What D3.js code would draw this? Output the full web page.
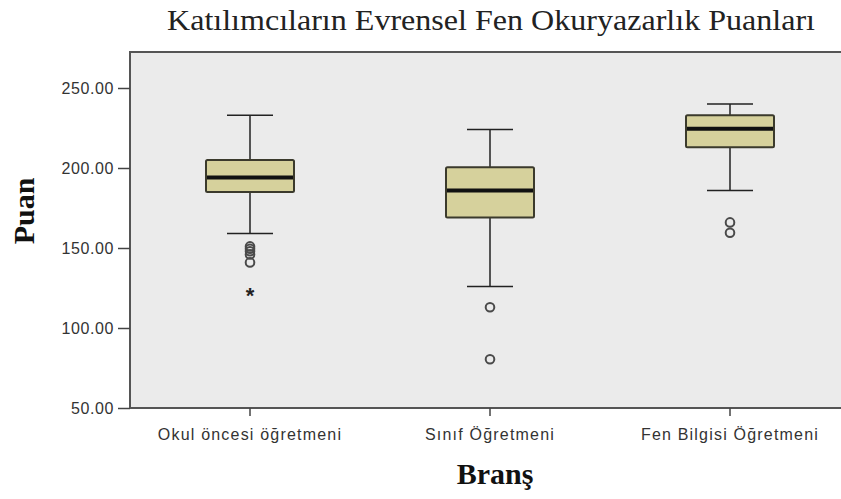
<!DOCTYPE html>
<html>
<head>
<meta charset="utf-8">
<script src="https://cdn.jsdelivr.net/npm/d3@7"></script>
<style>
  body { margin: 0; background: #fff; }
  svg { display: block; }
</style>
</head>
<body>
<div id="chart"></div>
<script>
// Data
const categories = ['Okul öncesi öğretmeni', 'Sınıf Öğretmeni', 'Fen Bilgisi Öğretmeni'];
const whiskerLow = [159, 126, 186];
const q1 = [185, 169, 213];
const median = [194, 186, 224.5];
const q3 = [205, 200.5, 233];
const whiskerHigh = [233, 224, 240];
const outliers = [[151, 149.5, 148, 146, 141], [113, 80.5], [166, 159.5]];
const extremes = [[121.5], [], []];
const yTicks = [50, 100, 150, 200, 250];

const W = 841, H = 499;
const margin = {top: 52, right: -9, bottom: 91, left: 130};
const innerW = W - margin.left - margin.right;
const innerH = H - margin.top - margin.bottom;

const colors = {
    plotBg: '#ebebeb',
    boxFill: '#d6d19c',
    boxStroke: '#3b3a2c',
    frame: '#555555',
    text: '#333333'
};

const svg = d3.select('#chart')
    .append('svg')
    .attr('width', W)
    .attr('height', H);

const g = svg.append('g')
    .attr('transform', `translate(${margin.left},${margin.top})`);

const x = d3.scaleBand()
    .domain(categories)
    .range([0, innerW]);

const y = d3.scaleLinear()
    .domain([50, 272.5])
    .range([innerH, 0]);

// Plot background
g.append('rect')
    .attr('width', innerW)
    .attr('height', innerH)
    .attr('fill', colors.plotBg)
    .attr('stroke', colors.frame)
    .attr('stroke-width', 2);

const boxW = 88, capW = 46;

const rows = categories.map((c, i) => ({
    cat: c,
    lo: whiskerLow[i], q1: q1[i], med: median[i], q3: q3[i], hi: whiskerHigh[i],
    out: outliers[i], ext: extremes[i]
}));

const groups = g.selectAll('g.box')
    .data(rows)
    .enter()
    .append('g')
    .attr('class', 'box')
    .attr('transform', d => `translate(${x(d.cat) + x.bandwidth() / 2},0)`);

// Whiskers
groups.append('line')
    .attr('x1', 0).attr('x2', 0)
    .attr('y1', d => y(d.hi)).attr('y2', d => y(d.q3))
    .attr('stroke', '#222').attr('stroke-width', 1.5);
groups.append('line')
    .attr('x1', 0).attr('x2', 0)
    .attr('y1', d => y(d.q1)).attr('y2', d => y(d.lo))
    .attr('stroke', '#222').attr('stroke-width', 1.5);
groups.append('line')
    .attr('x1', -capW / 2).attr('x2', capW / 2)
    .attr('y1', d => y(d.hi)).attr('y2', d => y(d.hi))
    .attr('stroke', '#222').attr('stroke-width', 1.5);
groups.append('line')
    .attr('x1', -capW / 2).attr('x2', capW / 2)
    .attr('y1', d => y(d.lo)).attr('y2', d => y(d.lo))
    .attr('stroke', '#222').attr('stroke-width', 1.5);

// Box
groups.append('rect')
    .attr('x', -boxW / 2)
    .attr('width', boxW)
    .attr('y', d => y(d.q3))
    .attr('height', d => y(d.q1) - y(d.q3))
    .attr('rx', 1.5)
    .attr('fill', colors.boxFill)
    .attr('stroke', colors.boxStroke)
    .attr('stroke-width', 2);

// Median
groups.append('line')
    .attr('x1', -boxW / 2 + 1).attr('x2', boxW / 2 - 1)
    .attr('y1', d => y(d.med)).attr('y2', d => y(d.med))
    .attr('stroke', '#111').attr('stroke-width', 4);

// Outliers
groups.selectAll('circle')
    .data(d => d.out)
    .enter()
    .append('circle')
    .attr('cx', 0)
    .attr('cy', v => y(v))
    .attr('r', 4.3)
    .attr('fill', 'none')
    .attr('stroke', '#4a4a4a')
    .attr('stroke-width', 2);

// Extreme values (star)
groups.selectAll('text.ext')
    .data(d => d.ext)
    .enter()
    .append('text')
    .attr('class', 'ext')
    .attr('x', 0)
    .attr('y', v => y(v) + 9)
    .attr('text-anchor', 'middle')
    .style('font-family', 'Liberation Sans, Arial, sans-serif')
    .style('font-size', '22px')
    .style('font-weight', 'bold')
    .style('fill', '#222')
    .text('*');

// Y axis
const yAxis = g.append('g')
    .call(d3.axisLeft(y).tickValues(yTicks).tickFormat(d3.format('.2f')).tickSize(12).tickPadding(4));
yAxis.select('.domain').remove();
yAxis.selectAll('line').attr('stroke', '#444').attr('stroke-width', 1.5);
yAxis.selectAll('text')
    .style('font-family', 'Liberation Sans, Arial, sans-serif')
    .style('font-size', '16px')
    .style('letter-spacing', '0.6px')
    .style('fill', colors.text);

// X axis
const xAxis = g.append('g')
    .attr('transform', `translate(0,${innerH})`)
    .call(d3.axisBottom(x).tickSize(8).tickPadding(13));
xAxis.select('.domain').remove();
xAxis.selectAll('line').attr('stroke', '#444').attr('stroke-width', 1.5);
xAxis.selectAll('text')
    .style('font-family', 'Liberation Sans, Arial, sans-serif')
    .style('font-size', '16px')
    .style('letter-spacing', '1.2px')
    .style('fill', colors.text);

// Title
svg.append('text')
    .attr('x', 491)
    .attr('y', 30)
    .attr('text-anchor', 'middle')
    .attr('textLength', 648)
    .attr('lengthAdjust', 'spacingAndGlyphs')
    .style('font-family', 'Liberation Serif, Times New Roman, serif')
    .style('font-size', '29px')
    .style('fill', '#222')
    .text('Katılımcıların Evrensel Fen Okuryazarlık Puanları');

// Axis titles
svg.append('text')
    .attr('transform', 'rotate(-90)')
    .attr('x', -211)
    .attr('y', 34)
    .attr('text-anchor', 'middle')
    .style('font-family', 'Liberation Serif, Times New Roman, serif')
    .style('font-size', '30px')
    .style('font-weight', 'bold')
    .style('fill', '#111')
    .text('Puan');

svg.append('text')
    .attr('x', 495)
    .attr('y', 484)
    .attr('text-anchor', 'middle')
    .style('font-family', 'Liberation Serif, Times New Roman, serif')
    .style('font-size', '30px')
    .style('font-weight', 'bold')
    .style('fill', '#111')
    .text('Branş');
</script>
</body>
</html>
